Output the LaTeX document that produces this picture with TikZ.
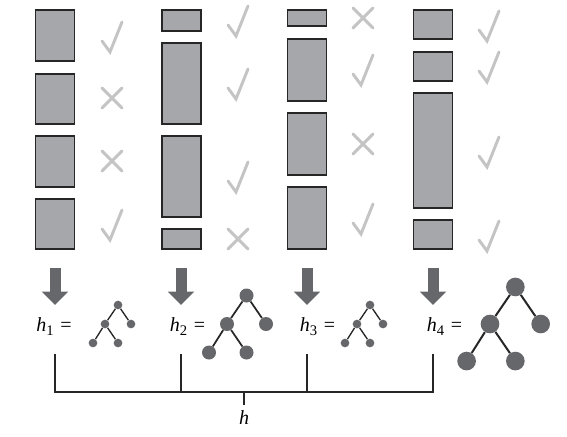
\documentclass[tikz,border=0pt]{standalone}
\usepackage{fontspec}
\setmainfont{Liberation Serif}
\usepackage{xcolor}
\usepackage{tikz}
\usetikzlibrary{arrows.meta}
\definecolor{boxgray}{RGB}{166,167,171}
\definecolor{markgray}{RGB}{196,196,196}
\definecolor{nodegray}{RGB}{102,103,107}
\newcommand{\hname}[1]{\textit{h}\raisebox{-3pt}{\fontsize{11}{12}\selectfont #1}\hspace{5pt}=}

\begin{document}
\begin{tikzpicture}[
  x=0.75pt, y=-0.75pt,
  box/.style={draw=black!85, fill=boxgray, line width=1.3pt},
  mk/.style={draw=markgray, line width=2.2pt, line cap=round},
  down/.style={draw=nodegray, line width=8.25pt, -{Triangle[length=10pt,width=19pt]}},
  leaf/.style={circle, fill=nodegray, inner sep=0pt, minimum size=#1},
  edge/.style={draw=black!85, line width=1.1pt},
  lbl/.style={font=\fontsize{15}{17}\selectfont},
  ok/.pic={\draw[mk] (-10,4) -- (-2,15) -- (10,-15);},
  no/.pic={\draw[mk] (-10,-10) -- (10,10) (-10,10) -- (10,-10);}
]
\useasboundingbox (0,0) rectangle (567,436);
% the four columns of blocks
\foreach \x/\ys in {
  55/{10/61,74/124,136/187,199/249},
  181.5/{10/31,43/124,136/217,229/249},
  307/{10/26,39/101,113/175,187/249},
  433/{10/39,52/81,93/208,220/249}} {
  \foreach \ya/\yb in \ys {
    \draw[box] (\x-19.5,\ya) rectangle (\x+19.5,\yb);
  }
}
% ticks and crosses
\foreach \x/\y/\m in {
  112/37/ok, 112/98/no, 112/161/no, 112/225/ok,
  238/21/ok, 238/84/ok, 238/177/ok, 238/239/no,
  363/18/no, 363/70/ok, 363/144/no, 363/219/ok,
  489/26/ok, 489/67/ok, 489/152/ok, 489/236/ok}
  \pic at (\x,\y) {\m};
% arrows and labels
\foreach \i/\x/\lx in {1/55/54, 2/181/187.5, 3/307/317.5, 4/433/444.5} {
  \coordinate (from\i) at (\x,268);
  \coordinate (to\i) at (\x,305);
  \draw[down] (from\i) -- (to\i);
  \node[lbl] (h\i) at (\lx,327) {\hname{\i}};
  \coordinate (top\i) at (\x,354);
  \coordinate (bot\i) at (\x,392);
}
% trees
\foreach \t/\mx/\s/\d/\w in {1/105/1/6.5pt/1pt, 2/227/1.5/10.5pt/1.3pt, 3/357/1/6.5pt/1pt, 4/490/1.95/14pt/1.5pt} {
  \begin{scope}[shift={(\mx,324)}, scale=\s]
    \node[leaf=\d] (mid\t) at (0,0) {};
    \node[leaf=\d] (root\t) at (13,-19) {};
    \node[leaf=\d] (side\t) at (26,0) {};
    \node[leaf=\d] (left\t) at (-12,19) {};
    \node[leaf=\d] (right\t) at (13,19) {};
    \draw[edge, line width=\w] (root\t) -- (mid\t);
    \draw[edge, line width=\w] (root\t) -- (side\t);
    \draw[edge, line width=\w] (mid\t) -- (left\t);
    \draw[edge, line width=\w] (mid\t) -- (right\t);
  \end{scope}
}
% bracket
\draw[edge] (top1) -- (bot1) -- (bot4) -- (top4);
\draw[edge] (top2) -- (bot2);
\draw[edge] (top3) -- (bot3);
\node[lbl, anchor=north, inner ysep=4pt] (hall) at (244,405) {\textit{h}};
\draw[edge] (hall.north) -- (hall.north |- bot1);
\end{tikzpicture}
\end{document}
